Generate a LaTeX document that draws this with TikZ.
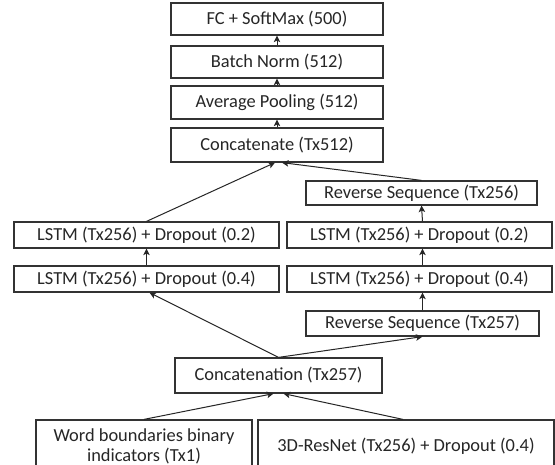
\documentclass[tikz,border=0pt]{standalone}
\usepackage{fontspec}
\setmainfont{Carlito}
\usetikzlibrary{arrows.meta,shadows}
\begin{document}
\begin{tikzpicture}[x=1pt,y=-1pt,
  box/.style={draw=black!80,line width=1.2pt,fill=white,inner sep=0pt,
    font=\fontsize{18.4}{20}\selectfont,text=black!85,align=center,
    drop shadow={shadow xshift=1pt,shadow yshift=-1pt,opacity=0.3,fill=black}},
  arr/.style={-{Stealth[length=6.5pt,width=6.5pt,inset=1.5pt]},line width=1pt,draw=black!85}]
\clip (0,0) rectangle (555,465);
\useasboundingbox (0,0) rectangle (555,465);
\fill[white] (0,0) rectangle (555,465);
\node[box,minimum width=212,minimum height=32] (fc) at (277,19) {FC + SoftMax (500)};
\node[box,minimum width=212,minimum height=32] (bn) at (277,62) {Batch Norm (512)};
\node[box,minimum width=212,minimum height=33] (ap) at (277,102.5) {Average Pooling (512)};
\node[box,minimum width=212,minimum height=34] (cat) at (277,145) {Concatenate (Tx512)};
\node[box,minimum width=231,minimum height=24] (rsa) at (421.5,193) {Reverse Sequence (Tx256)};
\node[box,minimum width=265,minimum height=26] (la) at (146.5,235) {LSTM (Tx256) + Dropout (0.2)};
\node[box,minimum width=265,minimum height=26] (lb) at (146.5,279) {LSTM (Tx256) + Dropout (0.4)};
\node[box,minimum width=265,minimum height=26] (ra) at (419.5,235) {LSTM (Tx256) + Dropout (0.2)};
\node[box,minimum width=265,minimum height=26] (rb) at (419.5,279) {LSTM (Tx256) + Dropout (0.4)};
\node[box,minimum width=233,minimum height=25] (rsb) at (422.5,323.5) {Reverse Sequence (Tx257)};
\node[box,minimum width=207,minimum height=35] (cn) at (278.5,375.5) {Concatenation (Tx257)};
\node[box,minimum width=216,minimum height=52] (wb) at (144,446) {Word boundaries binary\\indicators (Tx1)};
\node[box,minimum width=296,minimum height=52] (rn) at (406,446) {3D-ResNet (Tx256) + Dropout (0.4)};
\draw[arr] (bn.north) -- (fc.south);
\draw[arr] (ap.north) -- (bn.south);
\draw[arr] (cat.north) -- (ap.south);
\draw[arr] (la.north) -- ([xshift=-2pt]cat.south);
\draw[arr] (rsa.north) -- ([xshift=5pt]cat.south);
\draw[arr] (lb.north) -- (la.north |- la.south);
\draw[arr] (cn.north) -- ([xshift=3pt]lb.south);
\draw[arr] (cn.north) -- (rsb.south);
\draw[arr] (rsb.north) -- (rsb.north |- rb.south);
\draw[arr] (rsb.north |- rb.north) -- (rsb.north |- ra.south);
\draw[arr] (rsb.north |- ra.north) -- (rsa.south);
\draw[arr] (wb.north) -- ([xshift=-5pt]cn.south);
\draw[arr] ([xshift=-3pt]rn.north) -- ([xshift=5pt]cn.south);
\end{tikzpicture}
\end{document}
